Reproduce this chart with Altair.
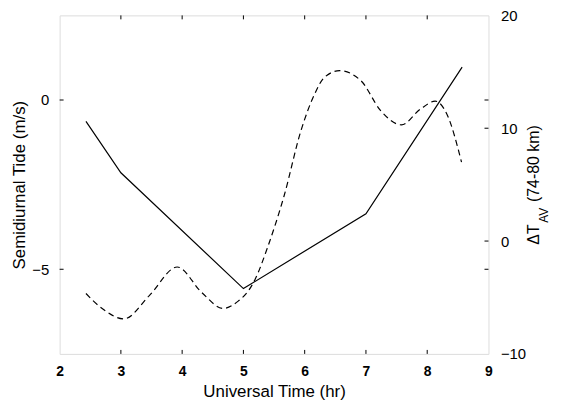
import altair as alt
import pandas as pd

# ---- data ----
ut_solid = [2.43, 3.0, 5.0, 7.0, 8.57]
tide = [-0.63, -2.15, -5.57, -3.36, 0.97]

ut_dash = [2.43, 2.70, 3.05, 3.46, 3.92, 4.32, 4.67, 4.92, 5.08, 5.19, 5.40,
           5.66, 5.94, 6.16, 6.32, 6.57, 6.92, 7.24, 7.58, 7.89, 8.13, 8.32, 8.56]
dT = [-4.65, -6.0, -6.9, -4.86, -2.3, -4.56, -5.97, -5.3, -4.42, -3.4, -0.47,
      3.93, 9.8, 13.0, 14.5, 15.1, 14.2, 11.56, 10.3, 11.7, 12.4, 11.27, 7.0]

x_tick_values = [2, 3, 4, 5, 6, 7, 8, 9]
x_inner_ticks = [3, 4, 5, 6, 7, 8]
left_tick_values = [-5, 0]
right_tick_values = [-10, 0, 10, 20]
right_inner_ticks = [0, 10]

W, H = 432, 341
FONT = "Liberation Sans"
TL = 4  # inward tick length

solid_df = pd.DataFrame({"ut": ut_solid, "tide": tide})
dash_df = pd.DataFrame({"ut": ut_dash, "dT": dT})
xt_df = pd.DataFrame({"ut": x_inner_ticks})
lt_df = pd.DataFrame({"tide": left_tick_values})
rt_df = pd.DataFrame({"dT": right_inner_ticks})

x_scale = alt.Scale(domain=[2, 9], nice=False, zero=False)
x_axis = alt.Axis(values=x_tick_values, format="d", tickSize=0, domain=False, grid=False,
                  labelFont=FONT, labelFontSize=14, labelFontWeight="bold", labelColor="black",
                  labelPadding=11, labelFlush=False,
                  title="Universal Time (hr)", titleFont=FONT, titleFontSize=17,
                  titleFontWeight="normal", titleColor="black", titlePadding=5)
X = alt.X("ut:Q", scale=x_scale, axis=x_axis)

l_scale = alt.Scale(domain=[-7.5, 2.5], nice=False, zero=False)
l_axis = alt.Axis(orient="left", values=left_tick_values, format="d", tickSize=0, domain=False,
                  grid=False, labelFont=FONT, labelFontSize=15, labelColor="black",
                  labelPadding=11, title="Semidiurnal Tide (m/s)", titleFont=FONT,
                  titleFontSize=17, titleFontWeight="normal", titleColor="black",
                  titlePadding=3)
YL = alt.Y("tide:Q", scale=l_scale, axis=l_axis)

r_scale = alt.Scale(domain=[-10, 20], nice=False, zero=False)
r_axis = alt.Axis(orient="right", values=right_tick_values, format="d", tickSize=0,
                  domain=False, grid=False, labelFont=FONT, labelFontSize=15,
                  labelColor="black", labelPadding=12, labelFlush=False, title=None)
YR = alt.Y("dT:Q", scale=r_scale, axis=r_axis)

solid = alt.Chart(solid_df).mark_line(color="black", strokeWidth=1.2).encode(x=X, y=YL)
xt_bottom = alt.Chart(xt_df).mark_rule(color="black", strokeWidth=1).encode(
    x=X, y=alt.value(H), y2=alt.value(H - TL))
xt_top = alt.Chart(xt_df).mark_rule(color="black", strokeWidth=1).encode(
    x=X, y=alt.value(0), y2=alt.value(TL))
lt_left = alt.Chart(lt_df).mark_rule(color="black", strokeWidth=1).encode(
    y=YL, x=alt.value(0), x2=alt.value(TL))
lt_right = alt.Chart(lt_df).mark_rule(color="black", strokeWidth=1).encode(
    y=YL, x=alt.value(W - TL), x2=alt.value(W))
left_layer = alt.layer(solid, xt_bottom, xt_top, lt_left, lt_right)

dashed = alt.Chart(dash_df).mark_line(color="black", strokeWidth=1.2, strokeDash=[6, 4],
                                      interpolate="monotone").encode(x=X, y=YR)
rt = alt.Chart(rt_df).mark_rule(color="black", strokeWidth=1).encode(
    y=YR, x=alt.value(W - TL), x2=alt.value(W))

title_df = pd.DataFrame({"main": ["ΔT"], "sub": ["AV"], "rest": ["(74-80 km)"]})
t_main = alt.Chart(title_df).mark_text(angle=270, align="left", baseline="alphabetic",
                                       font=FONT, fontSize=16, color="black").encode(
    text="main:N", x=alt.value(483), y=alt.value(231))
t_sub = alt.Chart(title_df).mark_text(angle=270, align="left", baseline="alphabetic",
                                      font=FONT, fontSize=12, color="black").encode(
    text="sub:N", x=alt.value(492), y=alt.value(209))
t_rest = alt.Chart(title_df).mark_text(angle=270, align="left", baseline="alphabetic",
                                       font=FONT, fontSize=16, color="black").encode(
    text="rest:N", x=alt.value(483), y=alt.value(188))
right_layer = alt.layer(dashed, rt, t_main, t_sub, t_rest)

chart = alt.layer(left_layer, right_layer).resolve_scale(y="independent").properties(
    width=W, height=H,
    autosize=alt.AutoSizeParams(type="none"),
    padding={"left": 52, "top": 6, "right": 65, "bottom": 45},
).configure_view(stroke="black", strokeWidth=1.5).configure(background="white")

chart.save("out.html", embed_options={"renderer": "svg", "actions": False})
